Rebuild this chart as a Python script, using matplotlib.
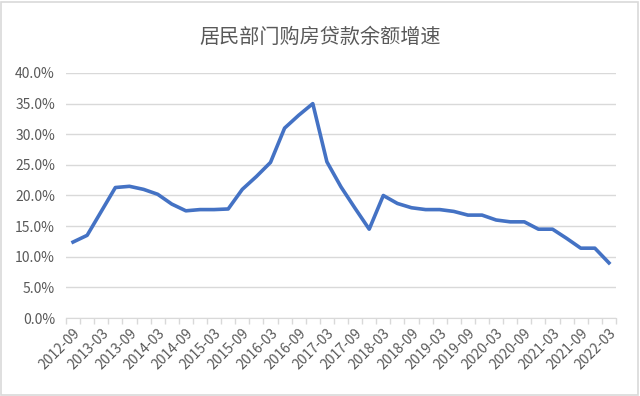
import matplotlib
matplotlib.use("Agg")
import matplotlib.pyplot as plt
from matplotlib.patches import Rectangle
from matplotlib.ticker import FuncFormatter, FixedLocator

plt.rcParams['font.family'] = ['Noto Sans CJK SC', 'DejaVu Sans']

# quarterly data, 2012-09 .. 2022-03
quarters = []
for y in range(2012, 2023):
    for m in ["03", "06", "09", "12"]:
        q = f"{y}-{m}"
        if "2012-09" <= q <= "2022-03":
            quarters.append(q)

growth = [12.4, 13.5, 17.4, 21.3, 21.5, 21.0, 20.2, 18.6, 17.5, 17.7,
          17.7, 17.8, 21.0, 23.1, 25.4, 31.0, 33.1, 35.0, 25.5, 21.4,
          17.9, 14.5, 20.0, 18.7, 18.0, 17.7, 17.7, 17.4, 16.8, 16.8,
          16.0, 15.7, 15.7, 14.5, 14.5, 13.0, 11.4, 11.4, 9.0]

title = "居民部门购房贷款余额增速"
grey = "#595959"

fig = plt.figure(figsize=(6.4, 3.96), dpi=100)
ax = fig.add_axes([66 / 640, 78 / 396, 550 / 640, 245 / 396])

x = list(range(len(quarters)))
ax.plot(x, growth, color="#4472C4", linewidth=2.6, solid_joinstyle="round", zorder=3)

ax.set_xlim(-0.5, len(quarters) - 0.5)
ax.set_ylim(0, 40)
ax.set_yticks(range(0, 41, 5))
ax.yaxis.set_major_formatter(FuncFormatter(lambda v, p: f"{v:.1f}%"))
ax.grid(axis="y", color="#d9d9d9", linewidth=1)
ax.set_axisbelow(True)

# labels every half year, tick marks between every quarter
ax.set_xticks(x[::2])
ax.set_xticklabels(quarters[::2], rotation=45, ha="right", rotation_mode="anchor")
ax.xaxis.set_minor_locator(FixedLocator([i - 0.5 for i in range(len(quarters) + 1)]))
ax.tick_params(axis="x", which="major", length=0, pad=6, labelsize=10, labelcolor=grey)
ax.tick_params(axis="x", which="minor", length=4, color="#d9d9d9", width=1)
ax.tick_params(axis="y", length=0, labelsize=10, labelcolor=grey, pad=8)

for s in ["top", "right", "left"]:
    ax.spines[s].set_visible(False)
ax.spines["bottom"].set_color("#d9d9d9")

fig.text(0.5, 1 - 37 / 396, title, ha="center", va="center", fontsize=14.5, color=grey)

fig.patches.append(Rectangle((0.002, 0.003), 0.995, 0.992, transform=fig.transFigure,
                             fill=False, edgecolor="#d9d9d9", linewidth=1.2))

fig.savefig("out.png", dpi=100)
